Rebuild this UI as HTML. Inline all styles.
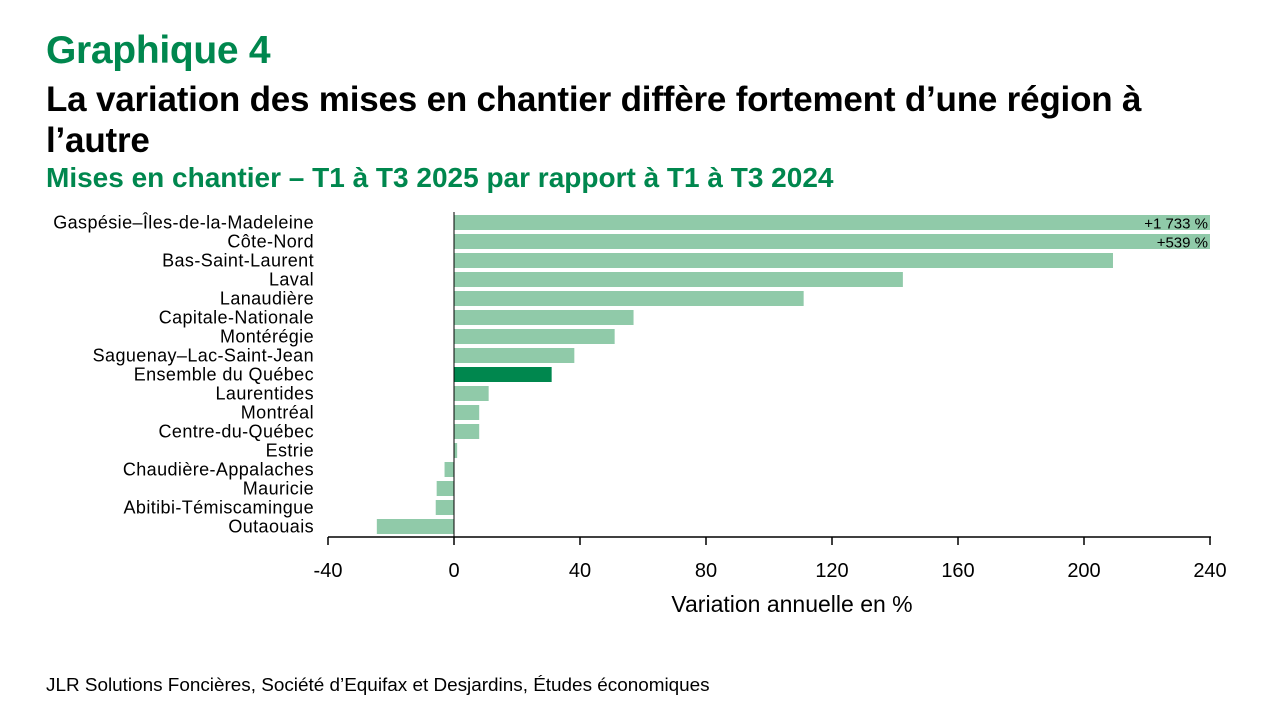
<!DOCTYPE html>
<html><head><meta charset="utf-8"><style>
body{margin:0;width:1280px;height:720px;background:#fff;font-family:"Liberation Sans",sans-serif;overflow:hidden;position:relative}
.t{position:absolute;white-space:nowrap}
</style></head><body>
<div class="t" style="left:46px;top:29px;font-size:39px;font-weight:bold;color:#00874E;letter-spacing:-0.3px">Graphique 4</div>
<div class="t" style="left:46px;top:79px;font-size:35px;font-weight:bold;color:#000;line-height:41px;letter-spacing:-0.2px">La variation des mises en chantier diffère fortement d’une région à<br>l’autre</div>
<div class="t" style="left:46px;top:162px;font-size:28px;font-weight:bold;color:#00874E;letter-spacing:0px">Mises en chantier – T1 à T3 2025 par rapport à T1 à T3 2024</div>
<svg width="1280" height="720" style="position:absolute;left:0;top:0" font-family="Liberation Sans, sans-serif">
<g id="bars"></g>
</svg>
<script>
var names=["Gaspésie–Îles-de-la-Madeleine","Côte-Nord","Bas-Saint-Laurent","Laval","Lanaudière","Capitale-Nationale","Montérégie","Saguenay–Lac-Saint-Jean","Ensemble du Québec","Laurentides","Montréal","Centre-du-Québec","Estrie","Chaudière-Appalaches","Mauricie","Abitibi-Témiscamingue","Outaouais"];
var vals=[240,240,209.2,142.5,111,57,51,38.2,31,11,8,8,1,-3,-5.5,-5.8,-24.5];
var s='',z=454,k=3.15;
for(var i=0;i<17;i++){var y=215+19*i,v=vals[i],x1=v<0?z+v*k:z,w=Math.abs(v)*k;
s+='<rect x="'+x1+'" y="'+y+'" width="'+w+'" height="15" fill="'+(i==8?'#00874E':'#90CAA9')+'"/>';
s+='<text x="314" y="'+(y+13.5)+'" font-size="18" letter-spacing="0.4" text-anchor="end">'+names[i]+'</text>';}
s+='<text x="1208" y="228.5" font-size="15" text-anchor="end">+1 733 %</text><text x="1208" y="247.5" font-size="15" text-anchor="end">+539 %</text>';
s+='<line x1="454" y1="212" x2="454" y2="537" stroke="#000" stroke-width="1"/>';
s+='<line x1="328" y1="537" x2="1211" y2="537" stroke="#000" stroke-width="1.5"/>';
for(var j=0;j<8;j++){var x=328+126*j;s+='<line x1="'+x+'" y1="537" x2="'+x+'" y2="545" stroke="#000" stroke-width="1.5"/><text x="'+x+'" y="577" font-size="20" text-anchor="middle">'+(-40+40*j)+'</text>';}
s+='<text x="792" y="612" font-size="23" text-anchor="middle">Variation annuelle en %</text>';
s+='<text x="46" y="691" font-size="18.9">JLR Solutions Foncières, Société d’Equifax et Desjardins, Études économiques</text>';
document.getElementById('bars').innerHTML=s;
</script>
</body></html>
